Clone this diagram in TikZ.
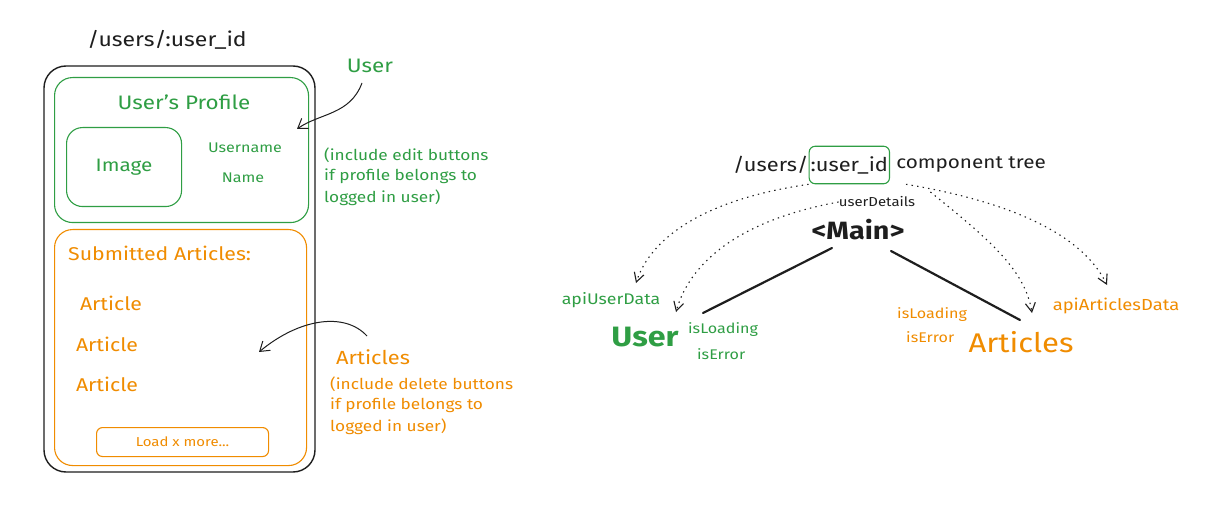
\documentclass[tikz,border=0pt]{standalone}
\usepackage{fontspec}
\setmainfont[FakeStretch=1.15]{Fira Sans}
\usetikzlibrary{arrows.meta}
\definecolor{exgreen}{HTML}{2F9E44}
\definecolor{exorange}{HTML}{F08C00}
\definecolor{exblack}{HTML}{1E1E1E}
\tikzset{
  box/.style={draw, rounded corners=18pt, line width=1.1pt},
  txt/.style={inner sep=0pt, font=\fontsize{#1}{#1}\selectfont},
  txt/.default=14,
  arr/.style={draw=exblack, line width=1pt, -{Straight Barb[length=9pt,width=12pt]}},
  dot/.style={draw=exblack, line width=1.1pt, dash pattern=on 1.4pt off 4.2pt, -{Straight Barb[length=9pt,width=10pt]}},
  tree/.style={draw=exblack, line width=2.2pt, line cap=round},
}
\begin{document}
\begin{tikzpicture}[x=1pt,y=-1pt]
\useasboundingbox[fill=white] (0,0) rectangle (1213,505);
% left wireframe
\node[txt=20, text=exblack] (title) at (167,40) {/users/:user\_id};
\draw[box, draw=exblack, line width=1.4pt, rounded corners=22pt] (44,66) rectangle (315,472);
\node[draw=exgreen, box, minimum width=254pt, minimum height=145pt, anchor=north west] (profile) at (54,77) {};
\node[txt=19.5, text=exgreen] (ptitle) at (184,102) {User's Profile};
\node[draw=exgreen, box, rounded corners=16pt, minimum width=115pt, minimum height=79pt, anchor=north west] (image) at (66,127) {};
\node[txt=18, text=exgreen] at (image.center) {Image};
\node[txt=14, text=exgreen] (uname) at (245,148) {Username};
\node[txt=14, text=exgreen] (name) at (243,178) {Name};
\node[draw=exorange, box, minimum width=252pt, minimum height=236pt, anchor=north west] (articlesbox) at (54,229) {};
\node[txt=18.5, text=exorange, anchor=west] (sub) at (68,253) {Submitted Articles:};
\node[txt=18.5, text=exorange] (a1) at (111,303) {Article};
\node[txt=18.5, text=exorange] (a2) at (107,344) {Article};
\node[txt=18.5, text=exorange] (a3) at (107,384) {Article};
\node[draw=exorange, box, rounded corners=6pt, minimum width=172pt, minimum height=29pt, anchor=north west] (load) at (96,427) {};
\node[txt=13, text=exorange] at (load.center) {Load x more...};
% annotations
\node[txt=19.5, text=exgreen] (userlbl) at (370,66) {User};
\coordinate (uarr) at (297,129);
\draw[arr] ([shift={(-8,17)}]userlbl.center) .. controls (350,115) and (320,113) .. (uarr);
\node[txt=15, text=exgreen, anchor=north west, align=left] (unote) at (324,148) {(include edit buttons\\[5pt]if profile belongs to\\[5pt]logged in user)};
\node[txt=19, text=exorange, anchor=west] (artlbl) at (336,357) {Articles};
\coordinate (aarr) at (259,352);
\draw[arr] ([shift={(31,-21)}]artlbl.west) .. controls (345,312) and (300,318) .. (aarr);
\node[txt=15, text=exorange, anchor=north west, align=left] (anote) at (330,377) {(include delete buttons\\[5pt]if profile belongs to\\[5pt]logged in user)};
% right: component tree
\node[txt=19, text=exblack, anchor=west] (path) at (733,165) {/users/};
\node[txt=19, text=exblack, anchor=west, draw=exgreen, line width=1.1pt, rounded corners=6pt, inner xsep=1.5pt, inner ysep=10pt] (uid) at (path.east) {:user\_id};
\node[txt=18, text=exblack, anchor=west] (ct) at ([xshift=6pt]uid.east) {component tree};
\node[txt=13, text=exblack] (ud) at (877,202) {userDetails};
\node[txt=25, text=exblack, font=\fontsize{25}{25}\selectfont\bfseries] (main) at (858,230) {<Main>};
\node[txt=28, text=exgreen, font=\fontsize{28}{28}\selectfont\bfseries] (user) at (645,337) {User};
\node[txt=14, text=exgreen, anchor=west] (uload) at (688,330) {isLoading};
\node[txt=14, text=exgreen, anchor=west] (uerr) at (697,354) {isError};
\node[txt=15.4, text=exgreen] (apiu) at (611,300) {apiUserData};
\node[txt=27, text=exorange] (art) at (1021,342) {Articles};
\node[txt=14, text=exorange, anchor=west] (aload) at (897,315) {isLoading};
\node[txt=14, text=exorange, anchor=west] (aerr) at (906,337) {isError};
\node[txt=16, text=exorange] (apia) at (1116,306) {apiArticlesData};
\coordinate (mainl) at (832,248);
\coordinate (mainr) at (891,251);
\coordinate (userend) at (703,313);
\coordinate (artend) at (1020,320);
\draw[tree] (mainl) -- (userend);
\draw[tree] (mainr) -- (artend);
\draw[dot] (uid.south west) .. controls (700,200) and (650,240) .. (636,283);
\draw[dot] (ud.west) .. controls (740,220) and (690,262) .. (676,312);
\draw[dot] ([xshift=16pt]uid.south east) .. controls (1000,200) and (1080,230) .. (1107,285);
\draw[dot] ([xshift=15pt,yshift=10pt]ud.east) .. controls (990,240) and (1025,270) .. (1032,313);
\end{tikzpicture}
\end{document}
